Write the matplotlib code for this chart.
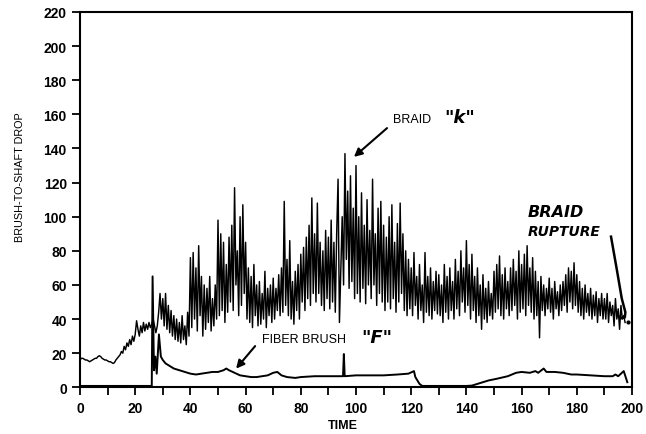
import numpy as np
import matplotlib.pyplot as plt

# braid "k" brush-to-shaft drop, sampled every 0.5 time units from t = 0
braid_drop = [
    16, 17, 17, 16.5, 16, 16, 15.5, 15, 15.5, 16,
    16.5, 17, 17, 18, 18.5, 18, 17, 16.5, 16, 16,
    15.5, 15, 15, 14.5, 14, 14.5, 16, 17, 18, 19,
    21, 20, 24, 22, 26, 24, 28, 25, 30, 27,
    31, 39, 34, 30, 36, 32, 38, 33, 37, 34,
    38, 35, 37, 40, 36, 32, 36, 44, 55, 40,
    52, 36, 55, 34, 48, 32, 45, 30, 42, 28,
    40, 27, 38, 26, 42, 28, 36, 25, 44, 30,
    76, 35, 79, 40, 70, 33, 83, 42, 65, 30,
    60, 34, 58, 38, 65, 33, 52, 36, 60, 40,
    98, 42, 90, 45, 85, 38, 72, 44, 88, 50,
    95, 45, 117, 60, 80, 42, 100, 48, 107, 55,
    85, 40, 70, 38, 65, 35, 72, 42, 60, 36,
    62, 37, 55, 40, 68, 35, 58, 42, 60, 38,
    64, 40, 58, 45, 66, 42, 70, 44, 109, 48,
    75, 42, 86, 40, 62, 37, 68, 45, 72, 40,
    78, 50, 82, 45, 88, 52, 95, 48, 111, 55,
    90, 50, 108, 55, 85, 48, 80, 45, 92, 52,
    88, 46, 98, 50, 85, 44, 90, 122, 38, 70,
    100, 60, 137, 75, 115, 58, 124, 62, 105, 52,
    130, 55, 100, 50, 114, 58, 95, 49, 110, 60,
    92, 52, 122, 60, 90, 48, 105, 55, 109, 50,
    95, 45, 88, 50, 100, 46, 107, 52, 85, 44,
    96, 50, 108, 55, 90, 45, 80, 42, 75, 46,
    70, 42, 79, 48, 65, 40, 72, 45, 60, 38,
    79, 44, 65, 42, 70, 40, 62, 45, 68, 43,
    66, 42, 60, 38, 72, 44, 65, 40, 70, 45,
    62, 40, 75, 46, 68, 42, 80, 50, 70, 44,
    86, 48, 72, 40, 78, 45, 65, 38, 70, 42,
    60, 34, 66, 40, 58, 38, 62, 42, 55, 40,
    68, 44, 72, 46, 77, 42, 66, 40, 70, 46,
    62, 42, 70, 45, 75, 48, 68, 40, 80, 44,
    72, 46, 78, 42, 83, 48, 70, 44, 76, 40,
    68, 42, 62, 29, 65, 45, 60, 42, 58, 46,
    64, 44, 58, 40, 62, 46, 56, 42, 60, 45,
    62, 48, 66, 44, 70, 50, 68, 46, 73, 48,
    66, 44, 62, 42, 58, 40, 60, 44, 55, 42,
    58, 40, 54, 42, 56, 38, 52, 42, 55, 40,
    52, 40, 55, 38, 50, 42, 48, 36, 52, 40,
    46, 34, 48, 40, 42, 38,
]
braid_time = np.arange(len(braid_drop)) * 0.5

# fiber brush "F"
fiber_time = [0, 10, 20, 25.8, 26.0, 26.3, 26.8, 27.3, 27.8, 28.6, 29.3, 30,
              31, 32, 33, 34, 35, 36, 38, 40, 42, 44, 46, 48, 50, 52, 53, 54,
              56, 58, 60, 62, 64, 66, 68, 70, 71.5, 73, 75, 78, 80, 85, 90,
              95.3, 95.6, 95.9, 100, 105, 110, 115, 119, 121, 121.5, 123, 124,
              130, 140, 142, 145, 148, 151, 155, 158, 160, 163, 165, 166, 168,
              169, 172, 175, 178, 180, 185, 190, 193, 194, 195, 197, 198.3]
fiber_drop = [0.8, 0.8, 0.8, 0.8, 0.8, 65, 10, 18, 8, 31, 18, 16,
              14, 13, 12, 11, 10.5, 10, 9, 8, 7.5, 8, 8.5, 9, 9, 10, 11, 10,
              8.5, 7, 6.5, 6, 6, 6.5, 7, 8.5, 9, 7, 6, 5.5, 6, 6.5, 6.5,
              6.5, 19.5, 6.5, 7, 7, 7, 7.5, 8, 9.5, 6, 2, 0.8,
              0.8, 0.8, 1, 2.5, 4, 5, 6.5, 8.5, 9, 8.5, 9.5, 8.5, 11,
              9, 9, 8.5, 7.5, 7.5, 7, 6.5, 6.5, 7.5, 6.5, 9.5, 3]

x_ticks = list(range(0, 201, 20))
y_ticks = list(range(0, 221, 20))

fig = plt.figure(figsize=(6.46, 4.35), dpi=100)
ax = fig.add_axes([80 / 646, 1 - 388.3 / 435, 552 / 646, 375.3 / 435])

ax.plot(braid_time, braid_drop, color='black', lw=1.05)
ax.plot(fiber_time, fiber_drop, color='black', lw=1.4)

ax.set_xlim(0, 200)
ax.set_ylim(0, 220)
ax.set_xticks(x_ticks)
ax.set_xticks(range(0, 201, 10), minor=True)
ax.set_yticks(y_ticks)
tick_font = {'family': 'Liberation Sans', 'weight': 'bold', 'size': 10}
ax.set_xticklabels([str(v) for v in x_ticks], fontdict=tick_font)
ax.set_yticklabels([str(v) for v in y_ticks], fontdict=tick_font)
ax.tick_params(which='both', direction='out', length=6, width=1.3, color='black')
ax.tick_params(axis='x', pad=4)
for sp in ax.spines.values():
    sp.set_linewidth(1.5)

fig.text(20 / 646, 1 - 177 / 435, 'BRUSH-TO-SHAFT DROP', rotation=90,
         ha='center', va='center', family='Liberation Sans', fontsize=7.8)
fig.text(343 / 646, 1 - 426 / 435, 'TIME', ha='center', va='center',
         family='Liberation Sans', fontsize=9, weight='bold')

# printed labels with arrows
ax.annotate('', xy=(98.5, 134), xytext=(112, 153),
            arrowprops=dict(arrowstyle='-|>', color='black', lw=1.5,
                            mutation_scale=12))
ax.text(113.5, 157.3, 'BRAID', ha='left', va='center',
        family='Liberation Sans', fontsize=9)
ax.text(137.6, 158.4, '"k"', ha='center', va='center',
        family='DejaVu Sans', fontsize=13, weight='bold', style='italic')

ax.annotate('', xy=(55.9, 9.7), xytext=(64.1, 25.4),
            arrowprops=dict(arrowstyle='-|>', color='black', lw=1.5,
                            mutation_scale=12))
ax.text(66, 28.3, 'FIBER BRUSH', ha='left', va='center',
        family='Liberation Sans', fontsize=9)
ax.text(107.4, 29.4, '"F"', ha='center', va='center',
        family='DejaVu Sans', fontsize=13, weight='bold', style='italic')

# handwritten rupture note
ax.text(162.1, 103, 'BRAID', ha='left', va='center', family='DejaVu Sans',
        fontsize=11.5, weight='bold', style='italic')
ax.text(162.1, 91.6, 'RUPTURE', ha='left', va='center', family='DejaVu Sans',
        fontsize=10, weight='bold', style='italic')
rup_t = [192.4, 194.5, 196.3, 197.6, 197.4, 196.0, 194.8]
rup_v = [88.3, 69, 52, 44, 41, 40.5, 42]
ax.plot(rup_t, rup_v, color='black', lw=1.8, clip_on=False)
ax.plot([198.4], [38], marker='o', ms=2, color='black', clip_on=False)

fig.savefig('out.png', dpi=100)
